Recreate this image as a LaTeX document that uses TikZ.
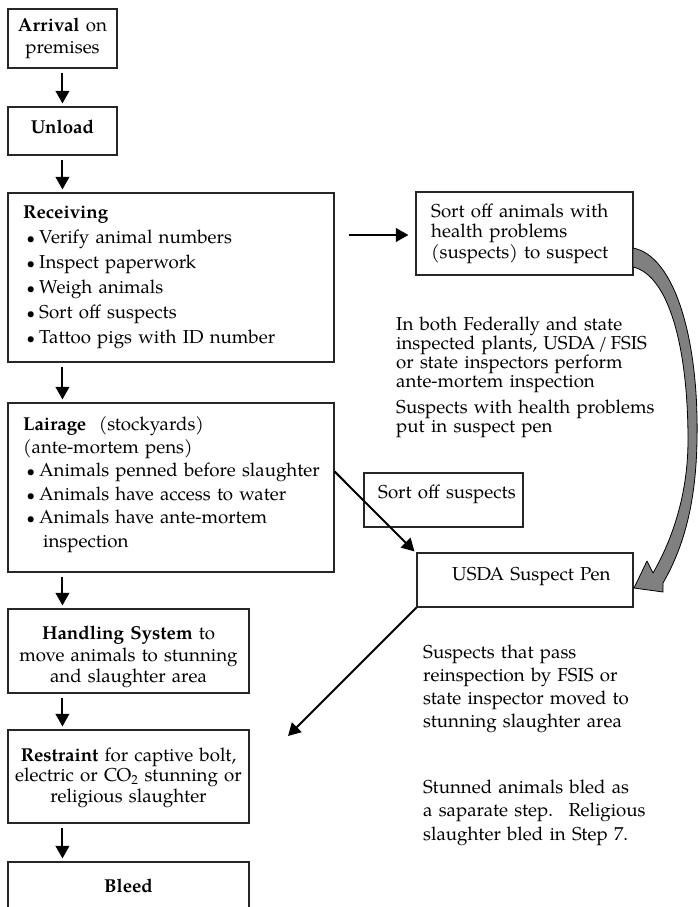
\documentclass[tikz,border=0pt]{standalone}
\usepackage{fontspec}
\setmainfont{TeX Gyre Pagella}
\usetikzlibrary{arrows.meta,calc}
\newcommand{\bul}{\hspace*{3.5pt}\makebox[12.5pt][l]{\fontsize{15}{15}\selectfont\textbullet}}
\begin{document}
\begin{tikzpicture}[x=1pt,y=-1pt,
  box/.style={draw=black!85, line width=1.1pt, inner sep=0pt, rectangle},
  txt/.style={inner sep=0pt, anchor=base west, align=left, text width=400pt},
  ctxt/.style={inner sep=0pt, anchor=base, align=center},
  arr/.style={line width=2pt, -{Triangle[length=12.5pt,width=13.5pt]}},
  fs/.style={font=\fontsize{18.7}{#1}\selectfont}
]
\path[use as bounding box] (0,0) rectangle (698,907);
\clip (0,0) rectangle (698,907);

% boxes
\node[box, minimum width=109pt, minimum height=59pt] (arrival) at (62.5,38.5) {};
\node[box, minimum width=109pt, minimum height=48pt] (unload) at (62.5,131) {};
\node[box, minimum width=326pt, minimum height=169pt] (receiving) at (171,277.5) {};
\node[box, minimum width=326pt, minimum height=169pt] (lairage) at (171,487.5) {};
\node[box, minimum width=241pt, minimum height=84pt] (handling) at (128.5,651) {};
\node[box, minimum width=241pt, minimum height=93pt] (restraint) at (128.5,776.5) {};
\node[box, minimum width=241pt, minimum height=50pt] (bleed) at (128.5,887) {};
\node[box, minimum width=217pt, minimum height=83pt] (sortoff) at (524.5,233.5) {};
\node[box, minimum width=159pt, minimum height=54pt] (sortsusp) at (443.5,500) {};
\node[box, minimum width=216pt, minimum height=54pt] (pen) at (525,580) {};

% texts in boxes
\node[ctxt, fs=21, text width=109pt] (arrivaltxt) at (62.5,32) {\textbf{Arrival} on\\premises};
\node[ctxt, fs=21, text width=109pt] (unloadtxt) at (62.5,133) {\textbf{Unload}};
\node[txt, fs=25] (receivingtxt) at (23,218) {\textbf{Receiving}\\
  \bul Verify animal numbers\\
  \bul Inspect paperwork\\
  \bul Weigh animals\\
  \bul Sort off suspects\\
  \bul Tattoo pigs with ID number};
\node[txt, fs=23.4] (lairagetxt) at (23,430) {\textbf{Lairage}~ (stockyards)\\
  (ante-mortem pens)\\
  \bul Animals penned before slaughter\\
  \bul Animals have access to water\\
  \bul Animals have ante-mortem\\
  \hspace*{20pt}inspection};
\node[ctxt, fs=21.5, text width=241pt] (handlingtxt) at (128.5,639.5) {\textbf{Handling System} to\\move animals to stunning\\and slaughter area};
\node[ctxt, fs=20.5, text width=241pt] (restrainttxt) at (128.5,761) {\textbf{Restraint} for captive bolt,\\electric or CO\textsubscript{2} stunning or\\religious slaughter};
\node[ctxt, fs=21, text width=241pt] (bleedtxt) at (128.5,892) {\textbf{Bleed}};
\node[txt, fs=20.5] (sortofftxt) at (431,217) {Sort off animals with\\health problems\\(suspects) to suspect};
\node[txt, fs=21] (sortsusptxt) at (378,498) {Sort off suspects};
\node[txt, fs=21] (pentxt) at (452,580) {USDA Suspect Pen};

% free texts
\node[txt, fs=19.2] (infotxt) at (396,330) {In both Federally and state\\
  inspected plants, USDA\,/\,FSIS\\
  or state inspectors perform\\
  ante-mortem inspection\\[6.5pt]
  Suspects with health problems\\
  put in suspect pen};
\node[txt, fs=23] (passtxt) at (423,658) {Suspects that pass\\
  reinspection by FSIS or\\
  state inspector moved to\\
  stunning slaughter area};
\node[txt, fs=23.5] (stunnedtxt) at (423,793) {Stunned animals bled as\\
  a saparate step.~ Religious\\
  slaughter bled in Step 7.};

% main flow arrows
\draw[arr] ($(arrival.south west)+(55,4)$) -- ($(unload.north west)+(55,-3)$);
\draw[arr] ($(unload.south west)+(55,4)$) -- ($(receiving.north west)+(55,-3)$);
\draw[arr] ($(receiving.south west)+(55,4)$) -- ($(lairage.north west)+(55,-3)$);
\draw[arr] ($(lairage.south west)+(55,4)$) -- ($(handling.north west)+(55,-3)$);
\draw[arr] ($(handling.south west)+(55,4)$) -- ($(restraint.north west)+(55,-3)$);
\draw[arr] ($(restraint.south west)+(55,4)$) -- ($(bleed.north west)+(55,-3)$);

% side arrows
\draw[arr] ($(receiving.east |- sortoff.west)+(14,1.5)$) -- ($(sortoff.west)+(-7,1.5)$);
\draw[arr] ($(lairage.north east)+(0,69)$) -- ($(pen.north west)+(-2,-1)$);
\coordinate (restin) at (288,736);
\draw[arr] (pen.south west) -- (restin);

% gray curved arrow from sortoff to pen
\filldraw[fill=black!50, draw=black, line width=0.8pt, line join=round]
  (633,248) .. controls (675,256) and (699,340) .. (697,440)
  .. controls (696,500) and (685,545) .. (663,583)
  -- (663,592) -- (634,588) -- (647,561) -- (653,573)
  .. controls (672,540) and (688,495) .. (688,440)
  .. controls (688,345) and (668,275) .. (633,267) -- cycle;
\end{tikzpicture}
\end{document}
